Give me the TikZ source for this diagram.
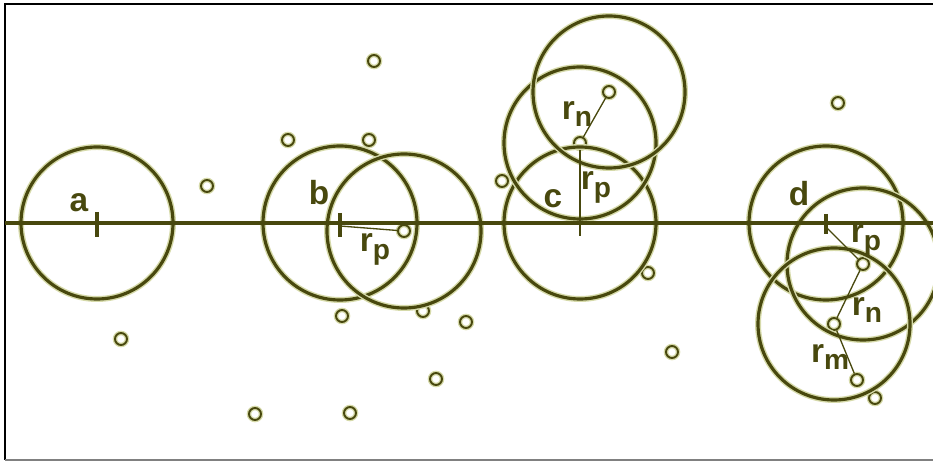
\documentclass[tikz,border=0pt]{standalone}
\usepackage{fontspec}
\setsansfont{Liberation Sans}
\usetikzlibrary{positioning}
\definecolor{ink}{RGB}{72,72,14}
\definecolor{halo}{RGB}{214,218,170}
% radius with a lowered index
\newcommand{\rsub}[1]{r\raisebox{-0.45ex}{\fontsize{16}{16}\selectfont #1}}

\begin{document}
\begin{tikzpicture}[x=0.02cm, y=-0.02cm,
    ring/.style={draw=ink, line width=1.8pt, preaction={draw=halo, line width=3.4pt}},
    dot/.style={circle, draw=ink, line width=1.1pt, minimum size=0.24cm, inner sep=0pt,
                preaction={draw=halo, line width=2.6pt}},
    link/.style={draw=ink, line width=0.75pt},
    tick/.style={draw=ink, line width=2.3pt},
    axis/.style={draw=ink, line width=2.4pt},
    lbl/.style={font=\sffamily\bfseries\fontsize{19}{21}\selectfont, text=ink, inner sep=0pt},
]
  \clip (0,0) rectangle (933,462);
  \draw[black, line width=0.6pt] (933,4) -- (5,4) -- (5,460);
  \draw[gray, line width=0.8pt] (5,460) -- (933,460);

  % centres
  \coordinate (ca) at (97,223);
  \coordinate (cb) at (340,223);
  \coordinate (cc) at (580,223);
  \coordinate (cd) at (826,223);

  % scattered points
  \foreach \x/\y [count=\i] in {374/61, 288/140, 369/140, 207/186, 502/181, 838/103,
      121/339, 342/316, 423/311, 466/322, 648/273, 672/352, 436/379, 255/414,
      350/413, 875/398}
    \node[dot] (q\i) at (\x,\y) {};

  % chain points
  \node[dot] (pb) at (404,231) {};
  \node[dot] (pc1) at (580,143) {};
  \node[dot] (pc2) at (609,92) {};
  \node[dot] (pd1) at (863,264) {};
  \node[dot] (pd2) at (834,324) {};
  \node[dot] (pd3) at (857,380) {};

  % circles
  \draw[ring] (ca) circle[radius=76];
  \draw[ring] (cb) circle[radius=77];
  \draw[ring] (pb) circle[radius=77];
  \draw[ring] (cc) circle[radius=76];
  \draw[ring] (pc1) circle[radius=76];
  \draw[ring] (pc2) circle[radius=76];
  \draw[ring] (cd) circle[radius=77];
  \draw[ring] (pd1) circle[radius=76];
  \draw[ring] (pd2) circle[radius=76];

  % axis
  \coordinate (axL) at (5,223);
  \coordinate (axR) at (933,223);
  \draw[axis] (axL) -- (axR);

  % ticks
  \draw[tick] ([yshift=0.22cm]ca) -- ([yshift=-0.28cm]ca);
  \draw[tick] ([yshift=0.2cm]cb) -- ([yshift=-0.28cm]cb);
  \draw[tick] ([yshift=0.18cm]cd) -- ([yshift=-0.22cm]cd);

  % radii
  \draw[link] ([yshift=-0.06cm]cb) -- (pb);
  \draw[link] ([yshift=-0.26cm]cc) -- (pc1);
  \draw[link] (pc1) -- (pc2);
  \draw[link] ([yshift=-0.08cm]cd) -- (pd1);
  \draw[link] (pd1) -- (pd2);
  \draw[link] (pd2) -- (pd3);

  % labels
  \node[lbl] (la) at (79,203) {a};
  \node[lbl] (lb) at (319,193) {b};
  \node[lbl] (lc) at (553,199) {c};
  \node[lbl] (ld) at (799,194) {d};
  \node[lbl] (lbp) at (375,249) {\rsub{p}};
  \node[lbl] (lcp) at (596,187) {\rsub{p}};
  \node[lbl] (lcn) at (577,114) {\rsub{n}};
  \node[lbl] (ldp) at (866,240) {\rsub{p}};
  \node[lbl] (ldn) at (867,310) {\rsub{n}};
  \node[lbl] (ldm) at (830,357) {\rsub{m}};
\end{tikzpicture}
\end{document}
